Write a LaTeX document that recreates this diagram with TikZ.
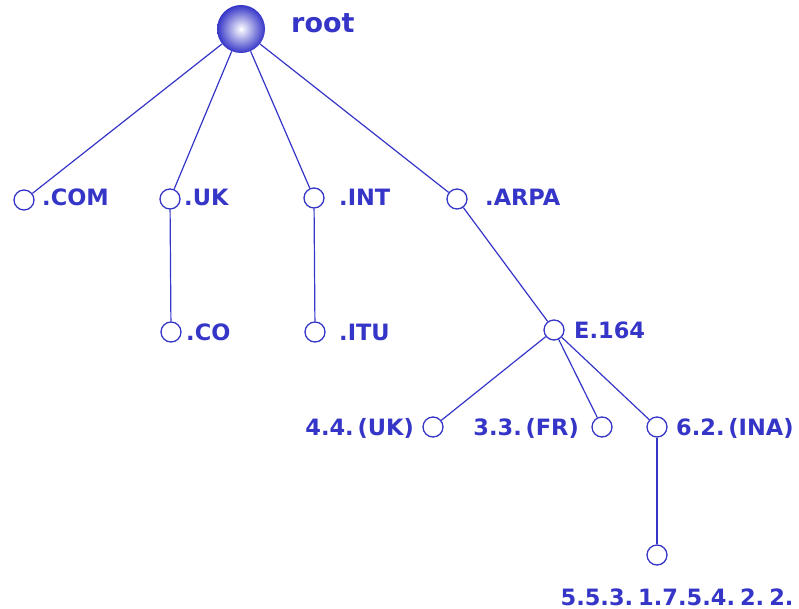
\documentclass[tikz,border=0pt]{standalone}
\usepackage{fontspec}
\setmainfont{DejaVu Sans}
\definecolor{dnsblue}{HTML}{3535C8}
\begin{document}
\begin{tikzpicture}[x=1pt,y=-1pt,
  dot/.style={circle,draw=dnsblue,line width=1.3pt,fill=white,minimum size=20pt,inner sep=0pt},
  lbl/.style={text=dnsblue,inner sep=0pt,font=\bfseries\fontsize{22.5}{26}\selectfont},
  edge/.style={draw=dnsblue,line width=1.2pt}]
\useasboundingbox (0,0) rectangle (799,609);
\shade[inner color=white,outer color=dnsblue] (241,29) circle[radius=24pt];
\node[circle,minimum size=48pt,inner sep=0pt] (root) at (241,29) {};
\node[text=dnsblue,inner sep=0pt,anchor=base west,font=\bfseries\fontsize{27}{30}\selectfont] (rootl) at (291,33) {root};
\node[dot] (com) at (24,200) {};
\node[dot] (uk) at (170,199) {};
\node[dot] (int) at (314,198) {};
\node[dot] (arpa) at (457,199) {};
\node[dot] (co) at (171,332) {};
\node[dot] (itu) at (315,332) {};
\node[dot] (e164) at (554,330) {};
\node[dot] (n44) at (433,427) {};
\node[dot] (n33) at (602,427) {};
\node[dot] (n62) at (657,427) {};
\node[dot] (leaf) at (657,555) {};
\node[lbl,anchor=base west] (coml) at (42,206) {.COM};
\node[lbl,anchor=base west] (ukl) at (184,206) {.UK};
\node[lbl,anchor=base west] (intl) at (339,206) {.INT};
\node[lbl,anchor=base west] (arpal) at (485,206) {.ARPA};
\node[lbl,anchor=base west] (col) at (186,340) {.CO};
\node[lbl,anchor=base west] (itul) at (339,340) {.ITU};
\node[lbl,anchor=base west] (e164l) at (574,338) {E.164};
\node[lbl,anchor=base east] (n44l) at (414,435) {4.4.\,(UK)};
\node[lbl,anchor=base east] (n33l) at (579,435) {3.3.\,(FR)};
\node[lbl,anchor=base west] (n62l) at (676,435) {6.2.\,(INA)};
\node[lbl,anchor=base] (leafl) at (677,605) {5.5.3.\hspace{5pt}1.7.5.4.\hspace{5pt}2.\hspace{5pt}2.};
\draw[edge] (root) -- (com);
\draw[edge] (root) -- (uk);
\draw[edge] (root) -- (int);
\draw[edge] (root) -- (arpa);
\draw[edge] (uk) -- (co);
\draw[edge] (int) -- (itu);
\draw[edge] (arpa) -- (e164);
\draw[edge] (e164) -- (n44);
\draw[edge] (e164) -- (n33);
\draw[edge] (e164) -- (n62);
\draw[edge] (n62) -- (leaf);
\end{tikzpicture}
\end{document}
